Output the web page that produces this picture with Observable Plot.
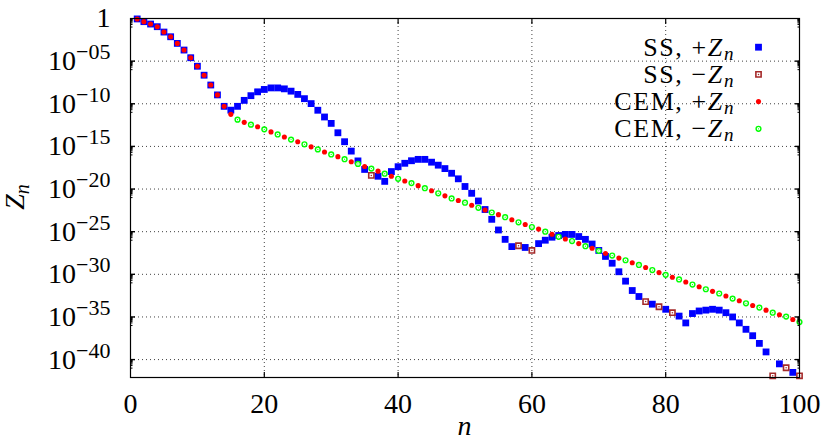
<!DOCTYPE html>
<html><head><meta charset="utf-8">
<script src="https://cdn.jsdelivr.net/npm/d3@7"></script>
<script src="https://cdn.jsdelivr.net/npm/@observablehq/plot@0.6"></script>
<style>
body{margin:0;background:#fff;}
#wrap{position:relative;width:821px;height:440px;}
</style></head><body><div id="wrap"></div>
<script>
// n index
const nValues = [1,2,3,4,5,6,7,8,9,10,11,12,13,14,15,16,17,18,19,20,
21,22,23,24,25,26,27,28,29,30,31,32,33,34,35,36,37,38,39,40,
41,42,43,44,45,46,47,48,49,50,51,52,53,54,55,56,57,58,59,60,
61,62,63,64,65,66,67,68,69,70,71,72,73,74,75,76,77,78,79,80,
81,82,83,84,85,86,87,88,89,90,91,92,93,94,95,96,97,98,99,100];
// log10 |Z_n| for SS
const ssLog = [-0.05,-0.37,-0.65,-0.96,-1.59,-2.14,-2.92,-3.7,-4.6,-5.6,
-6.65,-7.8,-8.96,-10.3,-10.75,-10.3,-9.6,-9.05,-8.6,-8.32,
-8.14,-8.14,-8.25,-8.52,-8.9,-9.4,-9.98,-10.76,-11.55,-12.3,
-13.4,-14.45,-15.55,-16.7,-17.7,-18.4,-18.5,-19.1,-17.95,-17.38,
-16.98,-16.68,-16.52,-16.52,-16.85,-17.2,-17.6,-18.15,-18.8,-19.7,
-20.5,-21.4,-22.4,-23.55,-24.8,-25.9,-26.75,-26.65,-26.85,-27.2,
-26.4,-26.0,-25.65,-25.45,-25.32,-25.32,-25.57,-25.9,-26.45,-27.2,
-27.9,-28.7,-29.7,-30.8,-31.9,-32.6,-33.2,-33.5,-33.8,-34.1,
-34.5,-34.9,-35.7,-34.6,-34.3,-34.2,-34.1,-34.2,-34.5,-35.0,
-35.7,-36.45,-37.2,-38.1,-39.1,-41.9,-40.5,-40.96,-41.5,-41.9];
// sign of Z_n for SS
const ssSign = [1,1,1,1,1,1,1,1,1,1,1,1,1,1,1,1,1,1,1,1,
1,1,1,1,1,1,1,1,1,1,1,1,1,1,1,-1,1,1,1,1,
1,1,1,1,1,1,1,1,1,1,1,1,1,1,1,1,1,-1,1,-1,
1,1,1,1,1,1,1,1,1,1,1,1,1,1,1,1,-1,1,-1,1,
-1,1,1,1,1,1,1,1,1,1,1,1,1,1,1,-1,1,-1,1,-1];
// log10 |Z_n| for CEM
const cemLog = [-0.05,-0.37,-0.65,-0.96,-1.59,-2.14,-2.92,-3.7,-4.6,-5.6,
-6.65,-7.8,-8.96,-10.3,-11.24,-11.86,-12.18,-12.45,-12.7,-13.0,
-13.3,-13.6,-13.9,-14.2,-14.45,-14.75,-15.05,-15.35,-15.65,-15.94,
-16.2,-16.5,-16.8,-17.05,-17.35,-17.6,-17.9,-18.2,-18.5,-18.8,
-19.05,-19.3,-19.6,-19.9,-20.2,-20.5,-20.8,-21.1,-21.35,-21.6,
-21.9,-22.2,-22.45,-22.75,-23.0,-23.3,-23.6,-23.9,-24.15,-24.45,
-24.7,-25.0,-25.3,-25.6,-25.85,-26.1,-26.4,-26.7,-26.95,-27.25,
-27.55,-27.8,-28.1,-28.35,-28.65,-28.9,-29.2,-29.5,-29.8,-30.06,
-30.35,-30.6,-30.9,-31.2,-31.45,-31.75,-32.0,-32.25,-32.55,-32.85,
-33.1,-33.4,-33.65,-33.9,-34.2,-34.5,-34.75,-34.96,-35.3,-35.6];
// sign of Z_n for CEM
const cemSign = [1,1,1,1,1,1,1,1,1,1,1,1,1,1,1,-1,1,-1,1,-1,
1,-1,1,-1,1,-1,1,-1,1,-1,1,-1,1,-1,1,-1,1,-1,1,-1,
1,-1,1,-1,1,-1,1,-1,1,-1,1,-1,1,-1,1,-1,1,-1,1,-1,
1,-1,1,-1,1,-1,1,-1,1,-1,1,-1,1,-1,1,-1,1,-1,1,-1,
1,-1,1,-1,1,-1,1,-1,1,-1,1,-1,1,-1,1,-1,1,-1,1,-1];

const xTicks = [0,20,40,60,80,100];
const xGrid = [20,40,60,80];
const yTickExp = [0,-5,-10,-15,-20,-25,-30,-35,-40];
const legendMethod = ["SS","SS","CEM","CEM"];
const legendSign = ["+","\u2212","+","\u2212"];

const blue="#0000ff", brown="#a52a2a", red="#ff0000", green="#00ff00";
const ns = "'Liberation Serif','Times New Roman','DejaVu Serif',serif";

const ss = nValues.map((n,i)=>({n, z: Math.pow(10, ssLog[i]), s: ssSign[i]}));
const cem = nValues.map((n,i)=>({n, z: Math.pow(10, cemLog[i]), s: cemSign[i]}));
const ssPlus = ss.filter(d=>d.s>0), ssMinus = ss.filter(d=>d.s<0);
const cemPlus = cem.filter(d=>d.s>0), cemMinus = cem.filter(d=>d.s<0);

const yTicks = yTickExp.map(e=>Math.pow(10,e));
const yGrid = yTicks.slice(1);
const yMinor = [];
yTickExp.forEach(e=>{ for (let m=1;m<=9;m++){ const v=Math.pow(10,e-1)*m; if (v>Math.pow(10,-42.1)) yMinor.push(v);} });

const fmtY = v => { const e = Math.round(Math.log10(v)); if (e===0) return "1"; const a=Math.abs(e); return "10^\u2212" + (a<10?"0"+a:String(a)); };

const legY = [28.7, 55.9, 83.1, 110.3];

const plot = Plot.plot({
  width: 821, height: 440,
  marginLeft: 130, marginRight: 22, marginTop: 18, marginBottom: 63,
  style: {fontFamily: ns, fontSize: "28px", background: "white", color: "black", overflow: "visible"},
  x: {domain: [0,100]},
  y: {type: "log", domain: [Math.pow(10,-42.1), 1]},
  marks: [
    Plot.gridX(xGrid, {stroke:"#000", strokeOpacity:0.75, strokeDasharray:"1,3"}),
    Plot.gridY(yGrid, {stroke:"#000", strokeOpacity:0.75, strokeDasharray:"1,3"}),
    Plot.dot(ssPlus, {x:"n", y:"z", symbol:"square", r:3.85, fill:blue}),
    Plot.dot(ssMinus, {x:"n", y:"z", symbol:"square", r:2.95, stroke:brown, strokeWidth:1.6, fill:"white"}),
    Plot.dot(ssMinus, {x:"n", y:"z", r:0.75, fill:brown}),
    Plot.dot(cemPlus, {x:"n", y:"z", r:2.55, fill:red}),
    Plot.dot(cemMinus, {x:"n", y:"z", r:2.4, stroke:green, strokeWidth:1.4, fill:"white"}),
    Plot.dot(cemMinus, {x:"n", y:"z", r:0.6, fill:green}),
    // legend keys
    Plot.dot([0], {frameAnchor:"top-right", dx:-41, dy:legY[0], symbol:"square", r:3.85, fill:blue}),
    Plot.dot([0], {frameAnchor:"top-right", dx:-41, dy:legY[1], symbol:"square", r:2.95, stroke:brown, strokeWidth:1.6, fill:"white"}),
    Plot.dot([0], {frameAnchor:"top-right", dx:-41, dy:legY[1], r:0.75, fill:brown}),
    Plot.dot([0], {frameAnchor:"top-right", dx:-41, dy:legY[2], r:2.55, fill:red}),
    Plot.dot([0], {frameAnchor:"top-right", dx:-41, dy:legY[3], r:2.4, stroke:green, strokeWidth:1.4, fill:"white"}),
    Plot.dot([0], {frameAnchor:"top-right", dx:-41, dy:legY[3], r:0.6, fill:green}),
    Plot.frame({stroke:"#000", strokeWidth:1.2}),
    // axes: labels
    Plot.axisX(xTicks, {anchor:"bottom", tickSize:0, tickPadding:16, tickFormat:d=>String(d), fontSize:28, fontFamily:ns, label:null}),
    Plot.axisY(yTicks, {anchor:"left", tickSize:0, tickPadding:20, tickFormat:fmtY, fontSize:28, fontFamily:ns, label:null}),
    // inward ticks
    Plot.axisX(xGrid, {anchor:"bottom", tickSize:-5, tickFormat:()=> "", label:null, strokeWidth:1.2}),
    Plot.axisX(xGrid, {anchor:"top", tickSize:-5, tickFormat:()=> "", label:null, strokeWidth:1.2}),
    Plot.axisY(yGrid, {anchor:"left", tickSize:-5, tickFormat:()=> "", label:null, strokeWidth:1.4}),
    Plot.axisY(yGrid, {anchor:"right", tickSize:-5, tickFormat:()=> "", label:null, strokeWidth:1.4}),
    Plot.axisY(yMinor, {anchor:"left", tickSize:-2.5, tickFormat:()=> "", label:null}),
    Plot.axisY(yMinor, {anchor:"right", tickSize:-2.5, tickFormat:()=> "", label:null})
  ]
});

document.getElementById("wrap").appendChild(plot);

// superscripts in y tick labels
const svg = d3.select(plot);
svg.selectAll('g[aria-label="y-axis tick label"] text').each(function(){
  const t = this.textContent;
  if (t.indexOf("^")>=0) {
    const [base, sup] = t.split("^");
    const el = d3.select(this);
    el.text(null);
    el.append("tspan").text(base);
    el.append("tspan").attr("dy", -11).attr("font-size", 22).text(sup);
  }
});

// x label
svg.append("text").attr("x", 464.5).attr("y", 435).attr("text-anchor","middle")
  .attr("font-size", 28).attr("font-style","italic").text("n");
// y label
const yl = svg.append("text").attr("transform","translate(24,197) rotate(-90)").attr("text-anchor","middle")
  .attr("font-size", 28);
yl.append("tspan").attr("font-style","italic").text("Z");
yl.append("tspan").attr("font-style","italic").attr("font-size",20).attr("dy",5).text("n");

// legend text
const baselines = [55.5, 82.7, 109.9, 137.1];
legendMethod.forEach((m,i)=>{
  const t = svg.append("text").attr("x", 735).attr("y", baselines[i]).attr("text-anchor","end")
    .attr("font-size", 26).attr("letter-spacing", 1.6);
  t.append("tspan").text(m + ", " + legendSign[i]);
  t.append("tspan").attr("font-style","italic").text("Z");
  t.append("tspan").attr("font-style","italic").attr("font-size",19).attr("dy",4).text("n");
});

// force serif family on every text
svg.selectAll("text").attr("font-family", ns).style("font-family", ns);
</script>
</body></html>
